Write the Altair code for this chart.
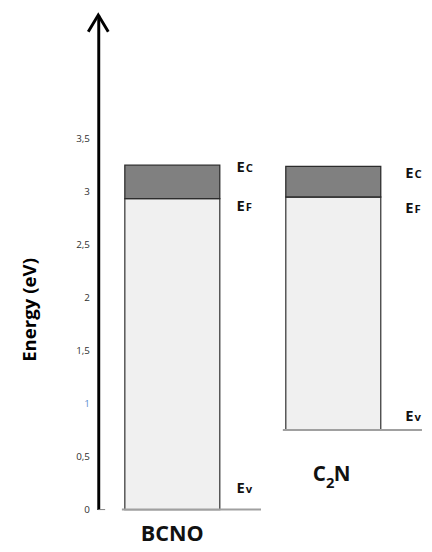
import altair as alt
import pandas as pd

# ---- data ----
materials = ["BCNO", "C2N"]
ev_level = [0.0, 0.75]      # valence band (bottom of bar)
ef_level = [2.935, 2.95]    # Fermi level
ec_level = [3.25, 3.24]     # conduction band (top of bar)

# label baselines (in eV)
ec_label_pos = [3.19, 3.13]
ef_label_pos = [2.82, 2.80]
ev_label_pos = [0.157, 0.84]
name_pos = [-0.3, 0.27]
name_parts = [["BCNO"], ["C", "2", "N"]]

y_ticks = [0, 0.5, 1, 1.5, 2, 2.5, 3, 3.5]
y_max = 4.667

FONT = "Open Sans"

bars = pd.DataFrame({"material": materials, "ev": ev_level, "ef": ef_level, "ec": ec_level})

xs = alt.Scale(domain=materials, paddingInner=0.41, paddingOuter=0.165)
ys = alt.Scale(domain=[0, y_max], nice=False, zero=False)

x_band = alt.X("material:N", scale=xs, axis=None)

y_axis = alt.Axis(
    values=y_ticks,
    labelExpr="replace(toString(datum.value), '.', ',')",
    ticks=False, grid=False,
    domainColor="black", domainWidth=3,
    labelFontSize=10, labelFont=FONT, labelPadding=9,
    labelColor={"condition": {"test": "datum.value === 1", "value": "#5b8fd0"}, "value": "#303030"},
    title="Energy (eV)", titleFont=FONT, titleFontSize=19, titleFontWeight="bold",
    titleColor="black", titleX=-64, titleY=300, titleBaseline="alphabetic", titleAlign="center",
)

base = alt.Chart(bars)

light = base.mark_bar(color="#f0f0f0", stroke="#3c3c3c", strokeWidth=1.3).encode(
    x=x_band,
    y=alt.Y("ef:Q", scale=ys, axis=y_axis),
    y2="ev:Q",
)
dark = base.mark_bar(color="#808080", stroke="#2c2c2c", strokeWidth=1.3).encode(
    x=x_band, y=alt.Y("ec:Q", scale=ys), y2="ef:Q"
)
baseline = base.mark_rule(color="#a0a0a0", strokeWidth=2, xOffset=-3, x2Offset=42).encode(
    x=alt.X("material:N", scale=xs, bandPosition=0),
    x2=alt.X2("material:N", bandPosition=1),
    y=alt.Y("ev:Q", scale=ys),
)

arrow = alt.Chart(pd.DataFrame({"v": [y_max]})).mark_point(
    shape="M-0.6,1L0,0L0.6,1", size=1156, filled=False, stroke="black",
    strokeWidth=3, opacity=1
).encode(x=alt.value(0), y=alt.Y("v:Q", scale=ys))

zero_tick = alt.Chart(pd.DataFrame({"v": [0]})).mark_rule(color="#808080", strokeWidth=1).encode(
    x=alt.value(0), x2=alt.value(7), y=alt.Y("v:Q", scale=ys)
)

layers = [light, dark, baseline, zero_tick, arrow]

# band-level labels
label_dx = {"BCNO": 17, "C2N": 25}
lab_rows = []
for i, m in enumerate(materials):
    lab_rows.append({"material": m, "sub": "C", "pos": ec_label_pos[i]})
    lab_rows.append({"material": m, "sub": "F", "pos": ef_label_pos[i]})
    lab_rows.append({"material": m, "sub": "v", "pos": ev_label_pos[i]})
labels = pd.DataFrame(lab_rows)

for m in materials:
    d = label_dx[m]
    src = alt.Chart(labels).transform_filter(alt.datum.material == m)
    enc = dict(x=alt.X("material:N", scale=xs, bandPosition=1), y=alt.Y("pos:Q", scale=ys))
    layers.append(src.mark_text(text="E", font=FONT, fontSize=15, fontWeight="bold",
                                align="left", baseline="alphabetic", dx=d, color="#111").encode(**enc))
    layers.append(src.mark_text(font=FONT, fontSize=11.5, fontWeight="bold",
                                align="left", baseline="alphabetic", dx=d + 9.5, color="#111").encode(
        text="sub:N", **enc))

# material names
names = pd.DataFrame({"material": materials, "pos": name_pos})
for i, m in enumerate(materials):
    src = alt.Chart(names).transform_filter(alt.datum.material == m)
    enc = dict(x=alt.X("material:N", scale=xs, bandPosition=0.5), y=alt.Y("pos:Q", scale=ys))
    parts = name_parts[i]
    if len(parts) == 1:
        layers.append(src.mark_text(text=parts[0], font=FONT, fontSize=22, fontWeight="bold",
                                    align="center", baseline="alphabetic", color="#111").encode(**enc))
    else:
        layers.append(src.mark_text(text=parts[0], font=FONT, fontSize=21, fontWeight="bold",
                                    align="right", baseline="alphabetic", dx=-7.5, color="#111").encode(**enc))
        layers.append(src.mark_text(text=parts[1], font=FONT, fontSize=15, fontWeight="bold",
                                    align="left", baseline="alphabetic", dx=-7.5, dy=7, color="#111").encode(**enc))
        layers.append(src.mark_text(text=parts[2], font=FONT, fontSize=21, fontWeight="bold",
                                    align="left", baseline="alphabetic", dx=0.5, color="#111").encode(**enc))

chart = alt.layer(*layers).properties(
    width=315, height=504,
    padding={"left": 92, "top": 2, "right": 17, "bottom": 36},
    autosize=alt.AutoSizeParams(type="none"),
).configure_view(strokeWidth=0)

chart.save("out.html", embed_options={"renderer": "svg", "actions": False})
